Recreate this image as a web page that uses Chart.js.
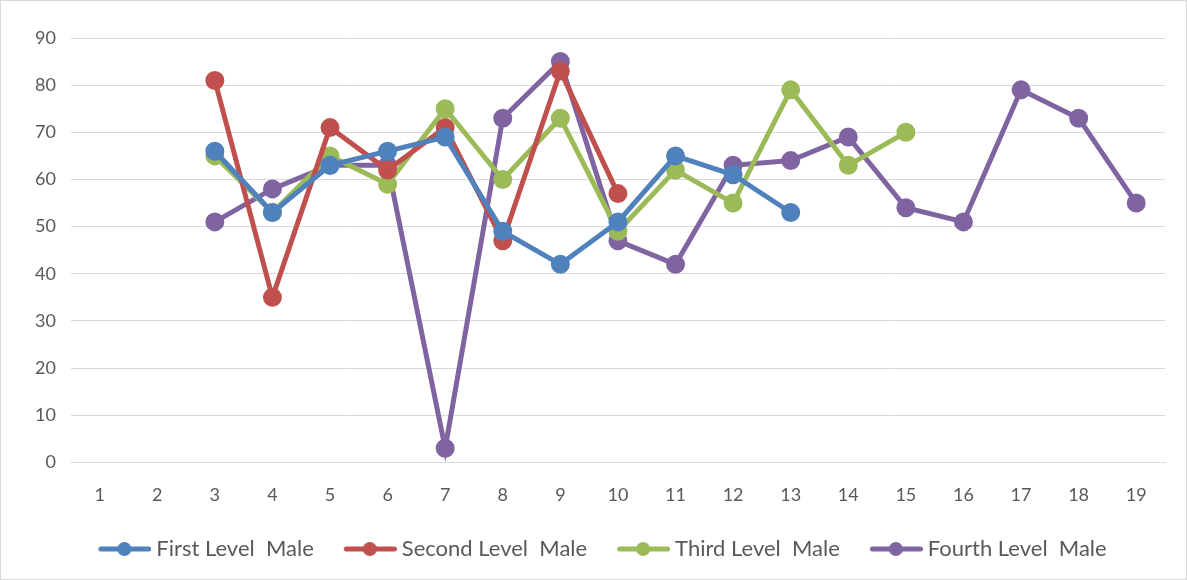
<!DOCTYPE html>
<html>
<head>
<meta charset="utf-8">
<script src="https://cdn.jsdelivr.net/npm/chart.js@4.4.1/dist/chart.umd.min.js"></script>
<style>
  html, body { margin: 0; padding: 0; background: #ffffff; }
  #wrap { position: relative; width: 1185px; height: 578px; border: 1px solid #d9d9d9; }
</style>
</head>
<body>
<div id="wrap"><canvas id="chart"></canvas></div>
<script>
// Categories along the x axis
const categories = ['1','2','3','4','5','6','7','8','9','10','11','12','13','14','15','16','17','18','19'];

// Series values per category (null = no value)
const firstLevelMale  = [null, null, 66, 53, 63, 66, 69, 49, 42, 51, 65, 61, 53, null, null, null, null, null, null];
const secondLevelMale = [null, null, 81, 35, 71, 62, 71, 47, 83, 57, null, null, null, null, null, null, null, null, null];
const thirdLevelMale  = [null, null, 65, 53, 65, 59, 75, 60, 73, 49, 62, 55, 79, 63, 70, null, null, null, null];
const fourthLevelMale = [null, null, 51, 58, 63, 63, 3, 73, 85, 47, 42, 63, 64, 69, 54, 51, 79, 73, 55];

const seriesNames = ['First Level  Male', 'Second Level  Male', 'Third Level  Male', 'Fourth Level  Male'];
const seriesColors = ['#4f81bd', '#c0504d', '#9bbb59', '#8064a2'];

// Legend symbol: a short line with a round marker in the middle.
// Left part of the image is empty (spacing between items); the drawing
// reaches past the box edge so it ends close to the label text.
const SYMBOL_BOX = 67;
function legendSymbol(color) {
  const c = document.createElement('canvas');
  c.width = 79; c.height = 18;
  const g = c.getContext('2d');
  g.strokeStyle = color;
  g.lineWidth = 5;
  g.lineCap = 'round';
  g.beginPath(); g.moveTo(28.5, 9); g.lineTo(76.5, 9); g.stroke();
  g.fillStyle = color;
  g.beginPath(); g.arc(52, 9, 7, 0, Math.PI * 2); g.fill();
  return c;
}

const allValues = [firstLevelMale, secondLevelMale, thirdLevelMale, fourthLevelMale];
const datasets = allValues.map((vals, i) => ({
  label: seriesNames[i],
  data: vals,
  borderColor: seriesColors[i],
  backgroundColor: seriesColors[i],
  pointBackgroundColor: seriesColors[i],
  pointBorderColor: seriesColors[i],
  borderWidth: 5,
  pointRadius: 7,
  pointHoverRadius: 7,
  pointStyle: 'circle',
  tension: 0,
  spanGaps: false,
  legendSymbol: legendSymbol(seriesColors[i])
}));

const tickFont = { family: 'Lato, "Open Sans", sans-serif', size: 18 };

new Chart(document.getElementById('chart'), {
  type: 'line',
  data: { labels: categories, datasets },
  options: {
    responsive: true,
    maintainAspectRatio: false,
    animation: false,
    layout: { padding: { top: 37, right: 21, left: 19, bottom: 9 } },
    plugins: {
      tooltip: { enabled: false },
      legend: {
        position: 'bottom',
        labels: {
          usePointStyle: true,
          pointStyleWidth: SYMBOL_BOX,
          boxHeight: 18,
          padding: 10,
          color: '#595959',
          font: { family: tickFont.family, size: 22 },
          generateLabels(chart) {
            return chart.data.datasets.map((ds, i) => ({
              text: ds.label,
              pointStyle: ds.legendSymbol,
              fillStyle: ds.borderColor,
              strokeStyle: ds.borderColor,
              lineWidth: 0,
              fontColor: '#595959',
              hidden: false,
              datasetIndex: i
            }));
          }
        }
      }
    },
    scales: {
      x: {
        offset: true,
        grid: { display: false, drawTicks: false },
        border: { display: true, color: '#d9d9d9', width: 1 },
        ticks: { color: '#595959', font: tickFont, padding: 22, maxRotation: 0, autoSkip: false }
      },
      y: {
        min: 0,
        max: 90,
        grid: { color: '#d9d9d9', lineWidth: 1, drawTicks: false },
        border: { display: false },
        ticks: { stepSize: 10, color: '#595959', font: tickFont, padding: 15 }
      }
    }
  }
});
</script>
</body>
</html>
